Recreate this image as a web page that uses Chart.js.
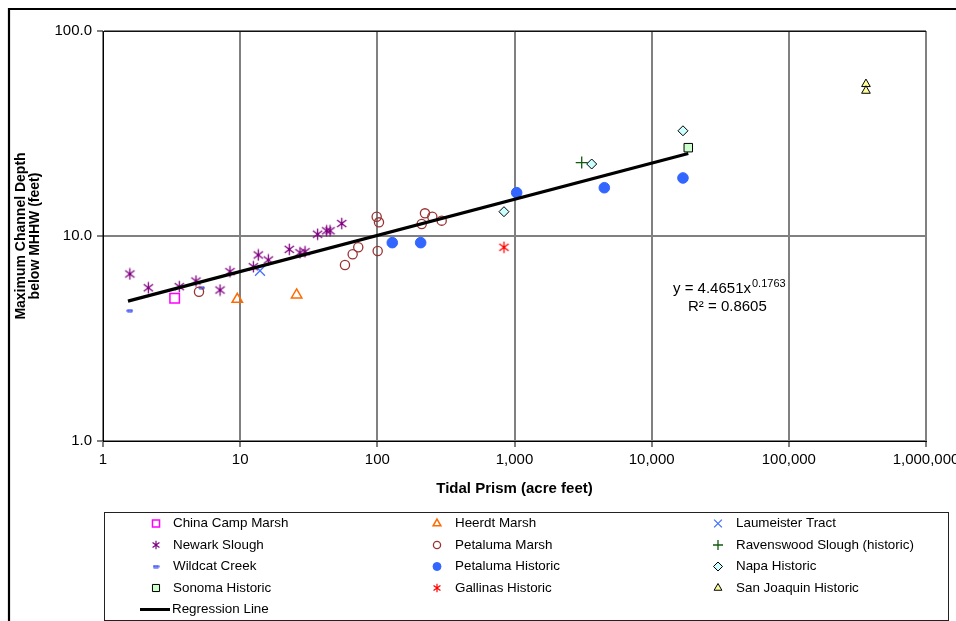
<!DOCTYPE html>
<html>
<head>
<meta charset="utf-8">
<script src="https://cdn.jsdelivr.net/npm/chart.js@4.4.0/dist/chart.umd.min.js"></script>
<style>
  html,body{margin:0;padding:0;background:#fff;}
  #wrap{position:relative;width:956px;height:621px;overflow:hidden;}
</style>
</head>
<body>
<div id="wrap"><canvas id="c" width="956" height="621"></canvas></div>
<script>
// ---------- DATA ----------
const xTickValues = [1, 10, 100, 1000, 10000, 100000, 1000000];
const yTickValues = [1, 10, 100];

const chinaCampX = [3.33];
const chinaCampY = [4.97];
const heerdtX = [9.53, 25.8];
const heerdtY = [4.91, 5.16];
const laumeisterX = [13.95];
const laumeisterY = [6.77];
const newarkX = [1.57, 2.14, 3.60, 4.76, 7.13, 8.43, 12.47, 13.56, 16.04, 22.8, 27.3, 29.7, 36.7, 42.7, 45.2, 55.0];
const newarkY = [6.53, 5.59, 5.66, 6.03, 5.45, 6.70, 7.08, 8.08, 7.64, 8.61, 8.29, 8.38, 10.2, 10.6, 10.6, 11.5];
const petalumaMarshX = [5.01, 58.1, 66.1, 72.6, 98.9, 102.8, 100.6, 210.6, 222.5, 251.6, 294.6];
const petalumaMarshY = [5.35, 7.22, 8.14, 8.81, 12.42, 11.66, 8.45, 11.44, 12.9, 12.42, 11.88];
const ravenswoodX = [3090];
const ravenswoodY = [22.8];
const wildcatX = [1.57, 5.24];
const wildcatY = [4.32, 5.59];
const petalumaHistX = [128.5, 207, 1037, 4517, 16910];
const petalumaHistY = [9.28, 9.28, 16.27, 17.2, 19.19];
const napaX = [838, 3654, 16910];
const napaY = [13.14, 22.45, 32.6];
const sonomaX = [18490];
const sonomaY = [26.97];
const gallinasX = [838];
const gallinasY = [8.81];
const sanJoaquinX = [365000, 365000];
const sanJoaquinY = [55.1, 51.1];
const regressionX = [1.52, 18490];
const regressionY = [4.81, 25.24];

const equationMain = 'y = 4.4651x';
const equationExp = '0.1763';
const equationR2 = 'R\u00B2 = 0.8605';

// ---------- marker images ----------
function makeAsterisk(color, size, lw) {
  const c = document.createElement('canvas');
  c.width = size; c.height = size;
  const g = c.getContext('2d');
  g.strokeStyle = color; g.lineWidth = lw; g.lineCap = 'butt';
  const m = size / 2, r = size / 2 - 0.8, d = r * 0.82;
  g.beginPath();
  g.moveTo(m, m - r); g.lineTo(m, m + r);
  g.moveTo(m - d, m - d * 0.75); g.lineTo(m + d, m + d * 0.75);
  g.moveTo(m - d, m + d * 0.75); g.lineTo(m + d, m - d * 0.75);
  g.stroke();
  g.fillStyle = color;
  g.beginPath(); g.arc(m, m, lw * 0.9, 0, Math.PI * 2); g.fill();
  return c;
}
function makeDash(w, h) {
  const c = document.createElement('canvas');
  c.width = w + 2; c.height = h + 2;
  const g = c.getContext('2d');
  g.fillStyle = '#9aa8ff'; g.strokeStyle = '#2a3cf0'; g.lineWidth = 1;
  g.beginPath();
  g.rect(1, 1, w, h);
  g.fill(); g.stroke();
  return c;
}
const newarkImg = makeAsterisk('#800080', 13, 1.3);
const newarkLeg = makeAsterisk('#800080', 10, 1.2);
const gallinasImg = makeAsterisk('#FF0000', 13, 1.3);
const gallinasLeg = makeAsterisk('#FF0000', 10, 1.2);
const wildcatImg = makeDash(5, 2);
const wildcatLeg = makeDash(5, 2);

function pts(xs, ys) { return xs.map((x, i) => ({x: x, y: ys[i]})); }

function sc(label, xs, ys, style, radius, bg, border, bw, legStyle, legRadius) {
  return {
    type: 'scatter', label: label, data: pts(xs, ys),
    pointStyle: style, pointRadius: radius, pointHoverRadius: radius,
    backgroundColor: bg, borderColor: border, pointBorderWidth: bw, borderWidth: bw,
    showLine: false, order: 2,
    legStyle: legStyle, legRadius: legRadius
  };
}
const none = 'rgba(0,0,0,0)';
const datasets = [
  sc('China Camp Marsh', chinaCampX, chinaCampY, 'rect', 6.7, none, '#FF00FF', 1.5, 'rect', 5),
  sc('Heerdt Marsh', heerdtX, heerdtY, 'triangle', 6, none, '#FF6A00', 1.5, 'triangle', 4.5),
  sc('Laumeister Tract', laumeisterX, laumeisterY, 'crossRot', 7, none, '#4470FF', 1.3, 'crossRot', 5.5),
  sc('Newark Slough', newarkX, newarkY, newarkImg, 6, none, '#800080', 1.3, newarkLeg, 5),
  sc('Petaluma Marsh', petalumaMarshX, petalumaMarshY, 'circle', 4.6, none, '#993333', 1.3, 'circle', 3.6),
  sc('Ravenswood Slough (historic)', ravenswoodX, ravenswoodY, 'cross', 6, none, '#0F5A0F', 1.3, 'cross', 5),
  sc('Wildcat Creek', wildcatX, wildcatY, wildcatImg, 3, none, '#2a3cf0', 1, wildcatLeg, 3),
  sc('Petaluma Historic', petalumaHistX, petalumaHistY, 'circle', 5.3, '#3366FF', '#3366FF', 1, 'circle', 4),
  sc('Napa Historic', napaX, napaY, 'rectRot', 5, '#CCFFFF', '#000000', 1, 'rectRot', 4.5),
  sc('Sonoma Historic', sonomaX, sonomaY, 'rect', 6, '#CCFFCC', '#000000', 1, 'rect', 5),
  sc('Gallinas Historic', gallinasX, gallinasY, gallinasImg, 6, none, '#FF0000', 1.3, gallinasLeg, 5),
  sc('San Joaquin Historic', sanJoaquinX, sanJoaquinY, 'triangle', 5, '#FFFF99', '#000000', 1, 'triangle', 4.5),
  {
    type: 'line', label: 'Regression Line', data: pts(regressionX, regressionY),
    borderColor: '#000000', borderWidth: 3.2, pointRadius: 0, showLine: true, fill: false,
    order: 1, isLine: true
  }
];

const FONT = "'Liberation Sans', Arial, sans-serif";

// ---------- plugins ----------
const framePlugin = {
  id: 'frame',
  beforeDraw(chart) {
    const ctx = chart.ctx;
    ctx.save();
    ctx.fillStyle = '#fff';
    ctx.fillRect(0, 0, chart.width, chart.height);
    ctx.strokeStyle = '#000';
    ctx.lineWidth = 2.2;
    ctx.beginPath();
    ctx.moveTo(9, 700); ctx.lineTo(9, 9); ctx.lineTo(1000, 9);
    ctx.stroke();
    ctx.restore();
  },
  afterDatasetsDraw(chart) {
    const ctx = chart.ctx;
    const a = chart.chartArea;
    ctx.save();
    ctx.strokeStyle = '#111';
    ctx.lineWidth = 1;
    ctx.beginPath();
    ctx.moveTo(a.left, a.top + 0.5); ctx.lineTo(a.right, a.top + 0.5);
    ctx.stroke();
    // trendline equation
    ctx.fillStyle = '#000';
    ctx.textBaseline = 'alphabetic';
    ctx.textAlign = 'left';
    ctx.font = '15px ' + FONT;
    const x0 = 673, y0 = 293;
    ctx.fillText(equationMain, x0, y0);
    const w = ctx.measureText(equationMain).width;
    ctx.font = '11px ' + FONT;
    ctx.fillText(equationExp, x0 + w + 1, y0 - 6);
    ctx.font = '15px ' + FONT;
    ctx.fillText(equationR2, 688, 311);
    ctx.restore();
  },
  afterDraw(chart) {
    const ctx = chart.ctx;
    ctx.save();
    // legend box
    const bx = 104, by = 512, bw = 844, bh = 108;
    ctx.strokeStyle = '#222';
    ctx.lineWidth = 1;
    ctx.strokeRect(bx + 0.5, by + 0.5, bw, bh);
    const colMarker = [156, 437, 718];
    const colText = [173, 455, 736];
    const rows = [523.5, 545, 566.5, 588, 609.5];
    ctx.font = '13.4px ' + FONT;
    ctx.textBaseline = 'middle';
    ctx.textAlign = 'left';
    const ds = chart.data.datasets;
    ds.forEach((d, i) => {
      if (d.isLine) {
        const y = rows[4];
        ctx.strokeStyle = '#000';
        ctx.lineWidth = 3;
        ctx.beginPath(); ctx.moveTo(140, y); ctx.lineTo(170, y); ctx.stroke();
        ctx.fillStyle = '#000';
        ctx.fillText(d.label, 172, y);
        return;
      }
      const col = i % 3, row = Math.floor(i / 3);
      const mx = colMarker[col], my = rows[row];
      ctx.save();
      ctx.fillStyle = d.backgroundColor;
      ctx.strokeStyle = d.borderColor;
      ctx.lineWidth = d.borderWidth;
      Chart.helpers.drawPoint(ctx, {pointStyle: d.legStyle, radius: d.legRadius, rotation: 0, borderWidth: d.borderWidth}, mx, my);
      ctx.restore();
      ctx.fillStyle = '#000';
      ctx.fillText(d.label, colText[col], my);
    });
    ctx.restore();
  }
};

const chart = new Chart(document.getElementById('c'), {
  data: { datasets: datasets },
  options: {
    responsive: false,
    animation: false,
    events: [],
    layout: { padding: { left: 0, top: 31, right: 30, bottom: 121 } },
    plugins: { legend: { display: false }, tooltip: { enabled: false }, title: { display: false } },
    scales: {
      x: {
        type: 'logarithmic', position: 'bottom', min: 1, max: 1000000,
        afterBuildTicks(scale) { scale.ticks = xTickValues.map(v => ({value: v})); },
        afterFit(scale) { scale.height = 59; scale.paddingLeft = 0; scale.paddingRight = 0; },
        ticks: {
          color: '#000', font: { size: 15, family: FONT }, padding: 4, maxRotation: 0, autoSkip: false,
          callback: (v) => Number(v).toLocaleString('en-US')
        },
        grid: { color: '#808080', lineWidth: 2, tickLength: 6, tickColor: '#000', tickWidth: 1 },
        border: { color: '#000', width: 1 },
        title: { display: true, text: 'Tidal Prism (acre feet)', color: '#000',
                 font: { size: 15, weight: 'bold', family: FONT }, padding: { top: 0, bottom: 2 } }
      },
      y: {
        type: 'logarithmic', position: 'left', min: 1, max: 100,
        afterBuildTicks(scale) { scale.ticks = yTickValues.map(v => ({value: v})); },
        afterFit(scale) { scale.width = 103; scale.paddingTop = 0; scale.paddingBottom = 0; },
        ticks: {
          color: '#000', font: { size: 15, family: FONT }, padding: 5, autoSkip: false,
          callback: (v) => Number(v).toFixed(1)
        },
        grid: { color: '#808080', lineWidth: 2, tickLength: 6, tickColor: '#000', tickWidth: 1 },
        border: { color: '#000', width: 1 },
        title: { display: true, text: ['Maximum Channel Depth', 'below MHHW (feet)'], color: '#000',
                 font: { size: 14, weight: 'bold', family: FONT, lineHeight: 1.0 }, padding: { top: 14, bottom: 0 } }
      }
    }
  },
  plugins: [framePlugin]
});
</script>
</body>
</html>
